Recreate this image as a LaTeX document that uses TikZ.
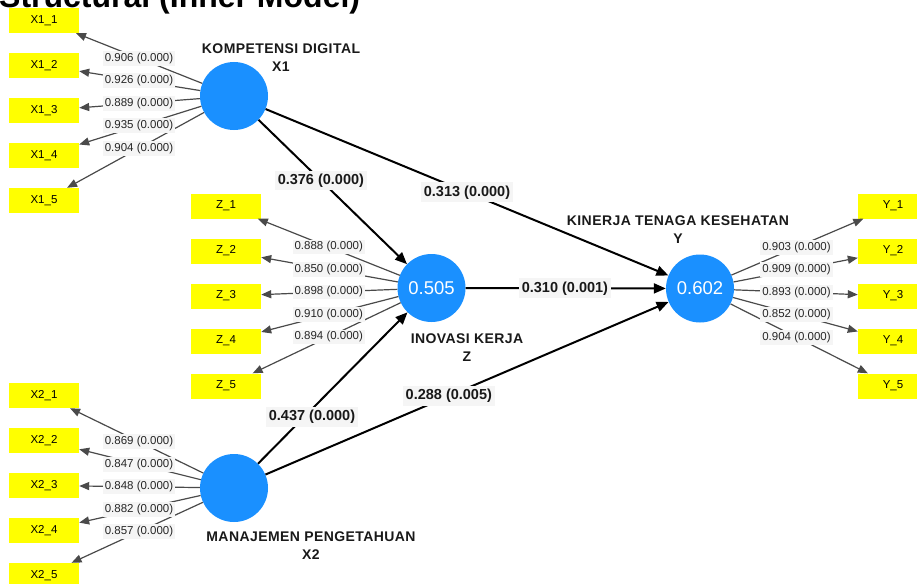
\documentclass[tikz,border=0pt]{standalone}
\usepackage{fontspec}
\setmainfont{Liberation Sans}
\usetikzlibrary{arrows.meta,calc}
\definecolor{lvblue}{HTML}{1A90FF}
\definecolor{indyellow}{HTML}{FFFF00}
\definecolor{lblbg}{HTML}{F5F5F5}
\definecolor{loadline}{HTML}{4A4A4A}
\begin{document}
\begin{tikzpicture}[x=1pt,y=-1pt,
  lv/.style={circle, fill=lvblue, minimum size=68pt, inner sep=0pt, text=white, font=\fontsize{18.5}{20}\selectfont},
  ind/.style={rectangle, fill=indyellow, minimum width=70pt, minimum height=25pt, inner sep=0pt, font=\fontsize{11.5}{13}\selectfont},
  lvname/.style={font=\fontsize{14}{18}\selectfont\bfseries\addfontfeature{LetterSpace=3}, align=center, text=black!90},
  outarr/.style={draw=loadline, line width=1.2pt, -{Triangle[length=10pt,width=8pt]}},
  patharr/.style={draw=black, line width=2pt, -{Triangle[length=12pt,width=10pt]}},
  ldlbl/.style={fill=lblbg, text=black!85, font=\fontsize{11.5}{13}\selectfont, inner xsep=2pt, inner ysep=2pt},
  pclbl/.style={fill=lblbg, text=black!90, font=\fontsize{14.5}{16}\selectfont\bfseries, inner xsep=3pt, inner ysep=3pt}
]
\useasboundingbox (0,0) rectangle (917,583);
\clip (0,0) rectangle (917,583);

% title (cut off at the top, as in the reference)
\node[anchor=base west, inner sep=0pt, font=\fontsize{32}{34}\selectfont\bfseries] (title) at (-1,7.5) {Structural (Inner Model)};

% latent variables
\node[lv] (X1) at (234,96) {};
\node[lv] (X2) at (234,488) {};
\node[lv] (Z) at (431.5,288) {0.505};
\node[lv] (Y) at (700,288.5) {0.602};

% latent variable names
\node[lvname] (nX1) at (281,58) {KOMPETENSI DIGITAL\\X1};
\node[lvname] (nZ) at (467,347.5) {INOVASI KERJA\\Z};
\node[lvname] (nY) at (678,229.5) {KINERJA TENAGA KESEHATAN\\Y};
\node[lvname] (nX2) at (311,545.5) {MANAJEMEN PENGETAHUAN\\X2};

% indicators
\foreach \i in {1,...,5} {
  \node[ind] (xa\i) at (44,{20.5+45*(\i-1)}) {X1\_\i};
  \node[ind] (xb\i) at (44,{395.5+45*(\i-1)}) {X2\_\i};
  \node[ind] (zz\i) at (226,{206+45*(\i-1)}) {Z\_\i};
  \node[ind] (yy\i) at (893,{206+45*(\i-1)}) {Y\_\i};
}

% loading arrows
\foreach \i in {1,...,5} {
  \draw[outarr] (X1) -- (xa\i);
  \draw[outarr] (X2) -- (xb\i);
  \draw[outarr] (Z) -- (zz\i);
  \draw[outarr] (Y) -- (yy\i);
}

% path arrows
\draw[patharr] (X1) -- (Z);
\draw[patharr] (X1) -- (Y);
\draw[patharr] (Z) -- (Y);
\draw[patharr] (X2) -- (Z);
\draw[patharr] (X2) -- (Y);

% loading labels
\foreach \i/\v in {1/0.906,2/0.926,3/0.889,4/0.935,5/0.904}
  \node[ldlbl] at ($(X1)!0.5!(xa\i)$) {\v{} (0.000)};
\foreach \i/\v in {1/0.869,2/0.847,3/0.848,4/0.882,5/0.857}
  \node[ldlbl] at ($(X2)!0.5!(xb\i)$) {\v{} (0.000)};
\foreach \i/\v in {1/0.888,2/0.850,3/0.898,4/0.910,5/0.894}
  \node[ldlbl] at ($(Z)!0.5!(zz\i)$) {\v{} (0.000)};
\foreach \i/\v in {1/0.903,2/0.909,3/0.893,4/0.852,5/0.904}
  \node[ldlbl] at ($(Y)!0.5!(yy\i)$) {\v{} (0.000)};

% path labels
\node[pclbl] (p1) at ($(X1)!0.44!(Z)$) {0.376 (0.000)};
\node[pclbl] (p2) at ($(X1)!0.5!(Y)$) {0.313 (0.000)};
\node[pclbl] (p3) at ($(Z)!0.497!(Y)$) {0.310 (0.001)};
\node[pclbl] (p4) at (312,417) {0.437 (0.000)};
\node[pclbl] (p5) at ($(X2)!0.461!(Y)$) {0.288 (0.005)};
\end{tikzpicture}
\end{document}
